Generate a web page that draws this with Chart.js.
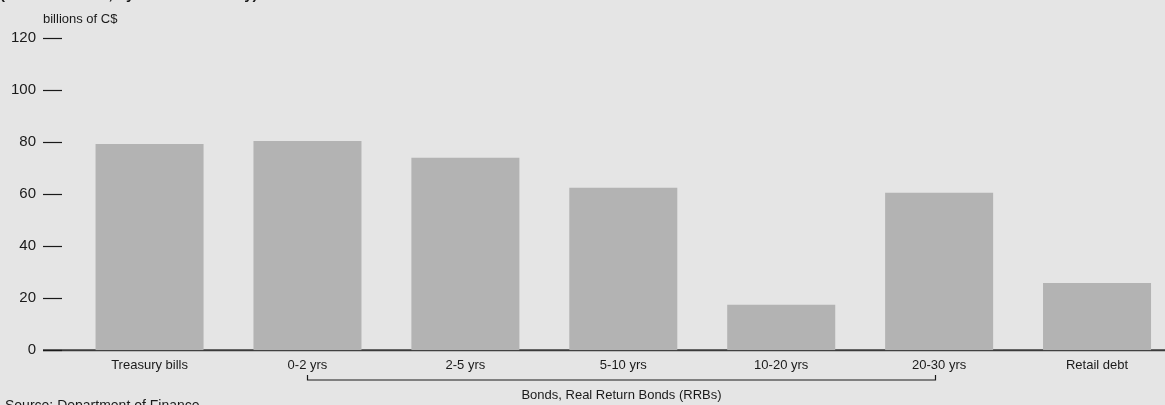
<!DOCTYPE html>
<html>
<head>
<meta charset="utf-8">
<script src="https://cdn.jsdelivr.net/npm/chart.js@4/dist/chart.umd.min.js"></script>
<style>
  html, body { margin: 0; padding: 0; background: #e5e5e5; overflow: hidden; }
  #wrap { position: relative; width: 1165px; height: 405px; overflow: hidden; }
  canvas { display: block; }
</style>
</head>
<body>
<div id="wrap">
  <canvas id="graficoDivida" width="1176" height="405"></canvas>
</div>
<script>
// dados
var categorias = ["Treasury bills", "0-2 yrs", "2-5 yrs", "5-10 yrs", "10-20 yrs", "20-30 yrs", "Retail debt"];
var valores = [79.3, 80.5, 74.1, 62.5, 17.5, 60.6, 25.9];
var ticksY = [0, 20, 40, 60, 80, 100, 120];
var tituloTopo = "(as at March 31, by term to maturity)";
var unidade = "billions of C$";
var fonte = "Source: Department of Finance";
var textoChave = "Bonds, Real Return Bonds (RRBs)";
var chaveInicio = 1;
var chaveFim = 5;

var corTexto = "#1a1a1a";
var familia = "'Liberation Sans', Arial, sans-serif";

// desenha tracinhos do eixo y, linha de base, chave e textos soltos
var extras = {
    id: "extras",
    beforeDatasetsDraw: function (chart) {
        var ctx = chart.ctx;
        var y0 = chart.scales.y.getPixelForValue(0);
        ctx.save();
        ctx.strokeStyle = "#3a3a3a";
        ctx.lineWidth = 2;
        ctx.beginPath();
        ctx.moveTo(43, y0);
        ctx.lineTo(chart.width, y0);
        ctx.stroke();
        ctx.restore();
    },
    afterDraw: function (chart) {
        var ctx = chart.ctx;
        var sy = chart.scales.y;
        var sx = chart.scales.x;
        ctx.save();

        // tracinhos
        ctx.strokeStyle = corTexto;
        ctx.lineWidth = 1.2;
        ticksY.forEach(function (v) {
            var y = Math.round(sy.getPixelForValue(v)) + 0.5;
            ctx.beginPath();
            ctx.moveTo(43, y);
            ctx.lineTo(62, y);
            ctx.stroke();
        });

        // chave dos titulos
        var x1 = Math.round(sx.getPixelForValue(chaveInicio)) + 0.5;
        var x2 = Math.round(sx.getPixelForValue(chaveFim)) - 3.5;
        ctx.lineWidth = 1.2;
        ctx.beginPath();
        ctx.moveTo(x1, 375);
        ctx.lineTo(x1, 380);
        ctx.lineTo(x2, 380);
        ctx.lineTo(x2, 375);
        ctx.stroke();

        ctx.fillStyle = corTexto;
        ctx.font = "13px " + familia;
        ctx.textAlign = "center";
        ctx.textBaseline = "middle";
        ctx.fillText(textoChave, (x1 + x2) / 2, 395);

        ctx.textAlign = "left";
        ctx.fillText(unidade, 43, 19);
        ctx.font = "14px " + familia;
        ctx.fillText(fonte, 5, 406);

        ctx.font = "bold 15px " + familia;
        ctx.fillText(tituloTopo, 0, -5);
        ctx.restore();
    }
};

var config = {
    type: "bar",
    data: {
        labels: categorias,
        datasets: [{
            data: valores,
            backgroundColor: "#b3b3b3",
            borderWidth: 0,
            categoryPercentage: 1,
            barPercentage: 0.684
        }]
    },
    options: {
        responsive: false,
        animation: false,
        devicePixelRatio: 1,
        layout: { padding: { top: 38.3, right: 0, bottom: 0, left: 0 } },
        plugins: {
            legend: { display: false },
            tooltip: { enabled: false },
            title: { display: false }
        },
        scales: {
            x: {
                offset: true,
                grid: { display: false, drawTicks: false },
                border: { display: false },
                ticks: {
                    color: corTexto,
                    font: { size: 13, family: familia },
                    padding: 7,
                    maxRotation: 0,
                    autoSkip: false
                },
                afterFit: function (scale) { scale.height = 54.7; }
            },
            y: {
                min: 0,
                max: 120,
                grid: { display: false, drawTicks: false },
                border: { display: false },
                ticks: {
                    stepSize: 20,
                    color: corTexto,
                    font: { size: 15, family: familia },
                    padding: 34.6
                },
                afterFit: function (scale) {
                    scale.width = 70.6;
                    // o padding dos ticks nao deve empurrar a area do grafico
                    scale.paddingTop = 8;
                    scale.paddingBottom = 8;
                }
            }
        }
    },
    plugins: [extras]
};

var grafico = new Chart(document.getElementById("graficoDivida"), config);
</script>
</body>
</html>
